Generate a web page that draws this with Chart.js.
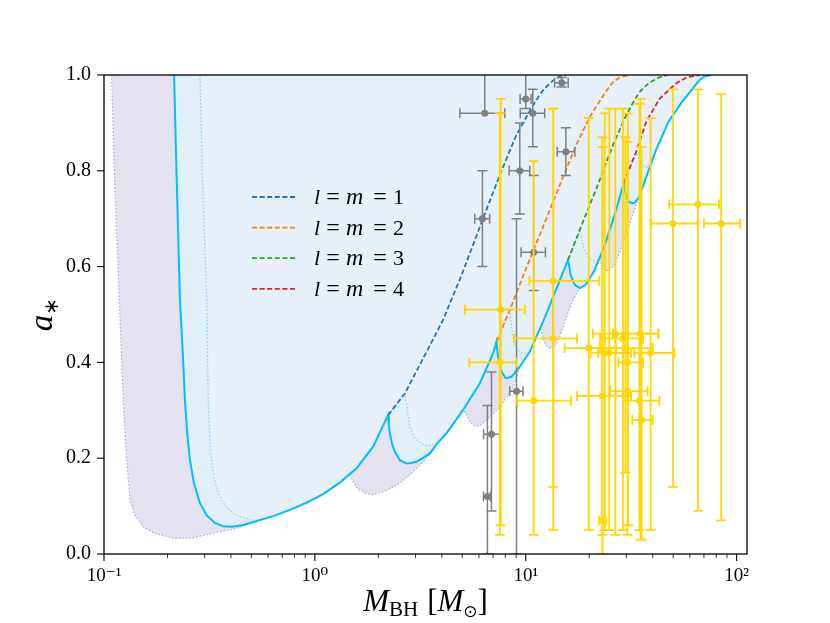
<!DOCTYPE html>
<html>
<head>
<meta charset="utf-8">
<script src="https://cdn.jsdelivr.net/npm/chart.js@4.4.0/dist/chart.umd.min.js"></script>
<style>
html, body { margin: 0; padding: 0; background: #fff; }
#wrap { width: 830px; height: 623px; }
</style>
</head>
<body>
<div id="wrap"><canvas id="myChart"></canvas></div>
<script>
// outer excluded region (dotted, lavender)
const outerMass = [0.1085, 0.1127, 0.1182, 0.1234, 0.1271, 0.1328, 0.1402, 0.1536, 0.1744, 0.2133, 0.2556, 0.3066, 0.3546, 0.410, 0.445, 0.480, 0.5293, 0.6345, 0.7613, 0.9135, 1.095, 1.314, 1.46, 1.514, 1.581, 1.726, 1.884, 2.147, 2.447, 2.819, 3.215, 3.585, 3.827, 4.209, 5.045, 5.25, 5.40, 5.61, 5.83, 6.1, 6.51, 7.0, 7.53, 8.1, 8.71, 9.1, 9.37, 10.45, 11.78, 12.04, 12.44, 13.0, 13.72, 14.49, 15.59, 16.76, 17.83, 18.03, 19.25, 21.23, 22.42, 22.92, 23.68, 24.74, 26.13, 27.9, 30.1, 32.15, 34.3, 37.57, 41.18, 47.62, 55.06, 62.1, 66.8, 70.5, 76];
const outerSpin = [1.0, 0.760, 0.530, 0.321, 0.217, 0.113, 0.081, 0.057, 0.043, 0.033, 0.033, 0.040, 0.047, 0.052, 0.056, 0.062, 0.069, 0.079, 0.092, 0.107, 0.125, 0.149, 0.166, 0.152, 0.138, 0.127, 0.124, 0.131, 0.144, 0.165, 0.190, 0.213, 0.232, 0.252, 0.301, 0.290, 0.278, 0.270, 0.266, 0.269, 0.280, 0.292, 0.307, 0.326, 0.349, 0.372, 0.391, 0.422, 0.474, 0.451, 0.436, 0.429, 0.433, 0.454, 0.495, 0.530, 0.553, 0.555, 0.562, 0.593, 0.618, 0.601, 0.593, 0.591, 0.601, 0.630, 0.670, 0.708, 0.743, 0.791, 0.840, 0.903, 0.944, 0.972, 0.990, 0.997, 1.0];

// main bound (solid)
const boundMass = [0.215, 0.2194, 0.2242, 0.2292, 0.236, 0.242, 0.2481, 0.2556, 0.267, 0.2851, 0.3066, 0.3357, 0.3675, 0.4028, 0.4572, 0.5293, 0.6345, 0.7613, 0.9135, 1.095, 1.314, 1.576, 1.889, 2.225, 2.242, 2.268, 2.329, 2.394, 2.528, 2.72, 2.882, 3.034, 3.25, 3.508, 3.827, 4.209, 5.045, 6.053, 6.998, 7.262, 7.39, 7.67, 8.04, 8.55, 9.37, 10.45, 12.3, 13.72, 15.87, 16.34, 17.07, 18.03, 19.25, 21.23, 23.68, 26.4, 29.14, 29.68, 30.77, 32.5, 34.3, 37.57, 41.18, 47.62, 55.06, 62.1, 66.8, 70.5, 76];
const boundSpin = [1.0, 0.843, 0.687, 0.530, 0.426, 0.321, 0.252, 0.196, 0.148, 0.106, 0.081, 0.065, 0.058, 0.057, 0.0605, 0.069, 0.079, 0.092, 0.107, 0.125, 0.149, 0.179, 0.224, 0.290, 0.269, 0.252, 0.228, 0.214, 0.196, 0.189, 0.190, 0.193, 0.200, 0.210, 0.232, 0.252, 0.301, 0.356, 0.419, 0.443, 0.412, 0.381, 0.367, 0.370, 0.391, 0.422, 0.493, 0.545, 0.614, 0.582, 0.562, 0.555, 0.562, 0.593, 0.645, 0.708, 0.774, 0.753, 0.735, 0.732, 0.743, 0.791, 0.840, 0.903, 0.944, 0.972, 0.990, 0.997, 1.0];

// inner region (dotted)
const innerMass = [0.285, 0.2945, 0.3077, 0.312, 0.318, 0.3239, 0.3322, 0.343, 0.3546, 0.3746, 0.410, 0.4508, 0.492, 0.5293, 0.6345, 0.7613, 0.9135, 1.095, 1.314, 1.576, 1.889, 2.225, 2.67, 2.75, 2.82, 2.95, 3.15, 3.38, 3.6, 3.9, 4.209, 5.045, 6.053, 6.998, 7.262, 8.40, 8.6, 8.8, 9.2, 9.8, 10.45, 12.3, 13.72, 15.87, 18.03, 18.5, 19.04, 19.74, 20.5, 21.6, 22.42, 23.68, 26.4, 29.14, 33.4, 34.5, 36.0, 37.3, 39.5, 41.18, 47.62, 55.06, 62.1, 66.8, 70.5, 76];
const innerSpin = [1.0, 0.760, 0.530, 0.321, 0.238, 0.196, 0.161, 0.138, 0.120, 0.102, 0.085, 0.077, 0.072, 0.069, 0.079, 0.092, 0.107, 0.125, 0.149, 0.179, 0.224, 0.290, 0.335, 0.300, 0.266, 0.245, 0.232, 0.226, 0.228, 0.236, 0.252, 0.301, 0.356, 0.419, 0.443, 0.509, 0.470, 0.440, 0.425, 0.418, 0.422, 0.493, 0.545, 0.614, 0.676, 0.652, 0.635, 0.621, 0.614, 0.612, 0.619, 0.645, 0.708, 0.774, 0.840, 0.826, 0.812, 0.806, 0.818, 0.840, 0.903, 0.944, 0.972, 0.990, 0.997, 1.0];

// superradiance thresholds
const l1Mass = [2.225, 2.67, 3.32, 4.055, 4.96, 6.28, 7.53, 9.03, 10.83, 11.87, 13.0, 13.72, 14.49, 15.5];
const l1Spin = [0.290, 0.335, 0.415, 0.489, 0.582, 0.701, 0.791, 0.875, 0.937, 0.964, 0.983, 0.991, 0.997, 1.0];
const l2Mass = [7.262, 8.40, 9.89, 11.65, 14.49, 17.39, 20.1, 22.01, 24.13, 25.9, 27.9, 31.1];
const l2Spin = [0.443, 0.509, 0.589, 0.666, 0.770, 0.855, 0.912, 0.940, 0.967, 0.985, 0.995, 1.0];
const l3Mass = [15.87, 18.69, 21.63, 25.93, 30.0, 32.25, 34.7, 37.9, 41.6, 47.1];
const l3Spin = [0.614, 0.694, 0.763, 0.854, 0.917, 0.942, 0.965, 0.981, 0.993, 1.0];
const l4Mass = [29.14, 33.4, 37.3, 43.2, 51.8, 58.0, 66.8];
const l4Spin = [0.774, 0.840, 0.903, 0.951, 0.983, 0.995, 1.0];

// X-ray binaries (gray)
const xrbMass = [6.39, 10.0, 10.8, 14.8, 15.5, 9.37, 6.23, 10.9, 9.04, 6.88, 6.58];
const xrbMassLo = [4.87, 9.4, 9.42, 13.7, 14.1, 8.34, 5.73, 9.5, 8.4, 6.31, 6.3];
const xrbMassHi = [7.95, 10.6, 12.3, 15.9, 17.1, 10.45, 6.74, 12.4, 9.7, 7.55, 6.8];
const xrbSpin = [0.92, 0.95, 0.92, 0.984, 0.84, 0.80, 0.70, 0.63, 0.34, 0.25, 0.12];
const xrbSpinLo = [0.92, 0.93, 0.85, 0.975, 0.79, 0.71, 0.60, 0.55, 0.0, 0.09, 0.0];
const xrbSpinHi = [1.05, 1.05, 0.97, 0.995, 0.89, 0.90, 0.80, 0.79, 0.70, 0.38, 0.31];

// GW events (gold)
const gwMass = [7.61, 7.53, 10.9, 13.5, 13.5, 19.9, 23.1, 23.1, 23.7, 24.9, 26.6, 28.9, 29.7, 30.4, 30.5, 35.0, 34.6, 35.4, 39.1, 65.6, 49.9, 84.5];
const gwMassLo = [5.14, 5.4, 9.1, 8.8, 10.4, 15.3, 17.5, 22.2, 20.3, 22.0, 20.8, 22.5, 22.5, 27.5, 25.2, 25.9, 28.9, 32.0, 32.7, 47.9, 39.3, 70];
const gwMassHi = [9.9, 9.0, 16.4, 17.5, 22.3, 26.8, 31.6, 24.0, 31.6, 29.0, 42.6, 36.0, 40.0, 36.0, 37.8, 42.6, 43.0, 40.0, 50.7, 82.4, 65.4, 104];
const gwSpin = [0.51, 0.40, 0.32, 0.45, 0.57, 0.43, 0.33, 0.07, 0.42, 0.42, 0.46, 0.45, 0.43, 0.40, 0.34, 0.46, 0.32, 0.28, 0.42, 0.73, 0.69, 0.69];
const gwSpinLo = [0.06, 0.04, 0.04, 0.05, 0.14, 0.05, 0.04, 0.0, 0.05, 0.05, 0.04, 0.05, 0.17, 0.04, 0.06, 0.03, 0.05, 0.03, 0.05, 0.09, 0.14, 0.07];
const gwSpinHi = [0.95, 0.92, 0.82, 0.93, 0.93, 0.91, 0.87, 0.85, 0.92, 0.93, 0.93, 0.93, 0.87, 0.86, 0.92, 0.95, 0.94, 0.85, 0.91, 0.97, 0.97, 0.96];

const legendLabels = ["1", "2", "3", "4"];
const modeColors = ["#1f77b4", "#ff7f0e", "#2ca02c", "#d62728"];
const xTickLabels = { "-1": "10⁻¹", "0": "10⁰", "1": "10¹", "2": "10²" };

const SERIF = "'Liberation Serif', 'DejaVu Serif', serif";
Chart.defaults.font.family = SERIF;
const ctx = document.getElementById("myChart");

const toPts = (xs, ys) => xs.map((m, i) => ({ x: m, y: ys[i] }));
const fillSet = (xs, ys, color, order) => ({
	data: toPts(xs, ys), fill: "end", backgroundColor: color, borderColor: "rgba(0,0,0,0)",
	borderWidth: 0, pointRadius: 0, order: order,
});
const lineSet = (xs, ys, color, width, dash, order) => ({
	data: toPts(xs, ys), fill: false, borderColor: color, borderWidth: width,
	borderDash: dash, pointRadius: 0, order: order,
});
const pointSet = (xs, ys, color, extra, order) => Object.assign({
	data: toPts(xs, ys), showLine: false, pointRadius: 3.5, pointBackgroundColor: color,
	pointBorderWidth: 0, borderColor: color, order: order,
}, extra);

const errorBars = {
	id: "errorBars",
	beforeDatasetDraw(chart, args) {
		const ds = chart.data.datasets[args.index];
		if (!ds.massLo) return;
		const c = chart.ctx, x = chart.scales.x, y = chart.scales.y, a = chart.chartArea;
		const cap = 5;
		c.save();
		c.beginPath();
		c.rect(a.left, a.top, a.right - a.left, a.bottom - a.top);
		c.clip();
		c.strokeStyle = ds.borderColor;
		c.lineWidth = ds.errWidth;
		ds.data.forEach((p, i) => {
			const px = x.getPixelForValue(p.x), py = y.getPixelForValue(p.y);
			const x0 = x.getPixelForValue(ds.massLo[i]), x1 = x.getPixelForValue(ds.massHi[i]);
			const y0 = y.getPixelForValue(ds.spinLo[i]), y1 = y.getPixelForValue(ds.spinHi[i]);
			c.beginPath();
			c.moveTo(x0, py); c.lineTo(x1, py);
			c.moveTo(x0, py - cap); c.lineTo(x0, py + cap);
			c.moveTo(x1, py - cap); c.lineTo(x1, py + cap);
			if (Math.abs(y0 - y1) > 0.5) {
				c.moveTo(px, y0); c.lineTo(px, y1);
				c.moveTo(px - cap, y0); c.lineTo(px + cap, y0);
				c.moveTo(px - cap, y1); c.lineTo(px + cap, y1);
			}
			c.stroke();
		});
		c.restore();
	},
};

const drawParts = (c, parts, cx, base) => {
	let w = 0;
	parts.forEach((p) => { c.font = p.font; p.w = c.measureText(p.t).width; w += p.w + (p.gap || 0); });
	let xx = cx - w / 2;
	parts.forEach((p) => { c.font = p.font; c.fillText(p.t, xx, base + (p.dy || 0)); xx += p.w + (p.gap || 0); });
};

const decorations = {
	id: "decorations",
	afterDraw(chart) {
		const c = chart.ctx, a = chart.chartArea, x = chart.scales.x, y = chart.scales.y;
		c.save();
		c.strokeStyle = "#000";
		// ticks on x
		x.ticks.forEach((t) => {
			const e = Math.floor(Math.log10(t.value) + 1e-9);
			const sig = t.value / Math.pow(10, e);
			if (Math.abs(sig - Math.round(sig)) > 1e-6) return;
			const major = Math.abs(sig - 1) < 1e-6;
			const px = x.getPixelForValue(t.value);
			c.lineWidth = major ? 1.1 : 0.8;
			c.beginPath();
			c.moveTo(px, a.bottom); c.lineTo(px, a.bottom + (major ? 7 : 4));
			c.stroke();
		});
		// ticks on y
		y.ticks.forEach((t) => {
			const py = y.getPixelForValue(t.value);
			c.lineWidth = 1.1;
			c.beginPath();
			c.moveTo(a.left - 7, py); c.lineTo(a.left, py);
			c.stroke();
		});
		// frame
		c.lineWidth = 1.3;
		c.strokeRect(a.left, a.top, a.right - a.left, a.bottom - a.top);

		// axis titles
		c.fillStyle = "#000";
		c.textBaseline = "alphabetic";
		c.textAlign = "left";
		drawParts(c, [
			{ t: "M", font: "italic 31px " + SERIF },
			{ t: "BH", font: "21px " + SERIF, dy: 5, gap: 9 },
			{ t: "[", font: "31px " + SERIF },
			{ t: "M", font: "italic 31px " + SERIF },
			{ t: "⊙", font: "17px 'DejaVu Sans'", dy: 6 },
			{ t: "]", font: "31px " + SERIF },
		], (a.left + a.right) / 2, 611);
		c.save();
		c.translate(52, (a.top + a.bottom) / 2);
		c.rotate(-Math.PI / 2);
		drawParts(c, [
			{ t: "a", font: "italic 33px " + SERIF },
			{ t: "∗", font: "20px 'DejaVu Sans'", dy: 6 },
		], 0, 0);
		c.restore();

		// legend
		legendLabels.forEach((lab, i) => {
			const ly = 197 + i * 30.6;
			c.strokeStyle = modeColors[i];
			c.lineWidth = 1.8;
			c.setLineDash([5, 2.6]);
			c.beginPath();
			c.moveTo(252, ly); c.lineTo(295, ly);
			c.stroke();
			c.setLineDash([]);
			const bx = 313, by = ly + 7;
			c.textAlign = "left";
			c.font = "italic 22px " + SERIF;
			c.fillText("l", bx + 1, by);
			c.font = "italic 24px " + SERIF;
			c.fillText("m", bx + 33, by);
			c.font = "22px " + SERIF;
			c.fillText(lab, bx + 80, by);
			c.textAlign = "center";
			c.font = "24px " + SERIF;
			c.fillText("=", bx + 20, by);
			c.fillText("=", bx + 67, by);
		});
		c.restore();
	},
};

const myChart = new Chart(ctx, {
	type: "line",
	data: {
		datasets: [
			fillSet(outerMass, outerSpin, "#e4e2f1", 12),
			fillSet(boundMass, boundSpin, "#e0eef6", 11),
			fillSet(innerMass, innerSpin, "#e7eff8", 10),
			lineSet(outerMass, outerSpin, "#8fb2e4", 1.2, [1.5, 2], 9),
			lineSet(innerMass, innerSpin, "#87cefa", 1.2, [1.5, 2], 8),
			lineSet(boundMass, boundSpin, "#00bfff", 2, [], 7),
			lineSet(l1Mass, l1Spin, modeColors[0], 1.8, [5, 2.6], 6),
			lineSet(l2Mass, l2Spin, modeColors[1], 1.8, [5, 2.6], 5),
			lineSet(l3Mass, l3Spin, modeColors[2], 1.8, [5, 2.6], 4),
			lineSet(l4Mass, l4Spin, modeColors[3], 1.8, [5, 2.6], 3),
			pointSet(xrbMass, xrbSpin, "#808080", {
				massLo: xrbMassLo, massHi: xrbMassHi, spinLo: xrbSpinLo, spinHi: xrbSpinHi, errWidth: 1.5,
			}, 2),
			pointSet(gwMass, gwSpin, "#ffd700", {
				massLo: gwMassLo, massHi: gwMassHi, spinLo: gwSpinLo, spinHi: gwSpinHi, errWidth: 1.8,
			}, 1),
		],
	},
	options: {
		responsive: true,
		maintainAspectRatio: false,
		animation: false,
		layout: { padding: { top: 75, right: 83, left: 0, bottom: 0 } },
		plugins: { legend: { display: false }, tooltip: { enabled: false } },
		elements: { line: { tension: 0 } },
		scales: {
			x: {
				type: "logarithmic",
				min: 0.1,
				max: 112,
				border: { display: false },
				grid: { drawOnChartArea: false, drawTicks: true, tickLength: 7, tickColor: "rgba(0,0,0,0)" },
				ticks: {
					autoSkip: false,
					maxRotation: 0,
					padding: 4,
					color: "#000",
					font: { family: SERIF, size: 19 },
					callback: (v) => {
						const e = Math.log10(v);
						const r = Math.round(e);
						if (Math.abs(e - r) < 1e-6 && xTickLabels[r] !== undefined) return xTickLabels[r];
						return "";
					},
				},
				afterFit: (s) => { s.height = 69; },
			},
			y: {
				min: 0,
				max: 1,
				border: { display: false },
				grid: { drawOnChartArea: false, drawTicks: true, tickLength: 7, tickColor: "rgba(0,0,0,0)" },
				ticks: {
					stepSize: 0.2,
					padding: 6,
					color: "#000",
					font: { family: SERIF, size: 20 },
					callback: (v) => v.toFixed(1),
				},
				afterFit: (s) => { s.width = 104; },
			},
		},
	},
	plugins: [errorBars, decorations],
});
</script>
</body>
</html>
